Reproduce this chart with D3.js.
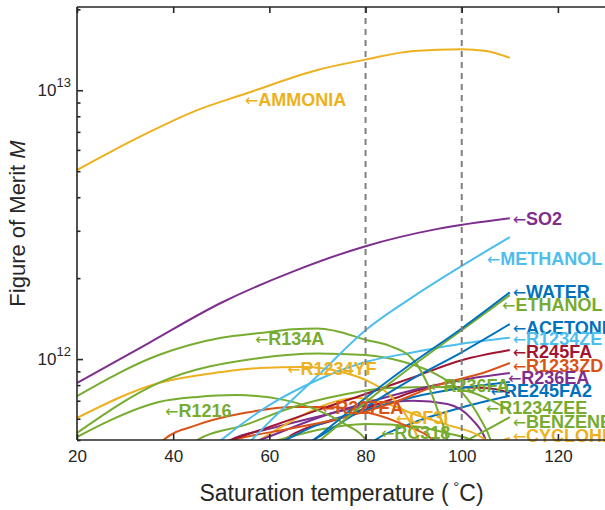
<!DOCTYPE html>
<html><head><meta charset="utf-8">
<script src="https://cdn.jsdelivr.net/npm/d3@7"></script>
<style>
body{margin:0;background:#fff}
svg{display:block}
text{font-family:"Liberation Sans",Arial,Helvetica,sans-serif}
</style>
</head><body>
<svg id="c" width="605" height="510"></svg>
<script>
// ---------- data (T in °C, M figure of merit) ----------
const xTicks = [20, 40, 60, 80, 100, 120];
const yMajorTicks = [1e12, 1e13];
const yMajorLabels = [["10","12"], ["10","13"]];
const refTemps = [80, 100];

const AMMONIA   = [[20,5.05e12],[27,5.9e12],[35,6.98e12],[45,8.43e12],[55,9.7e12],[70,1.19e13],[80,1.30e13],[90,1.40e13],[100,1.42e13],[105,1.40e13],[110,1.32e13]];
const SO2       = [[20,8.15e11],[35,1.15e12],[50,1.62e12],[65,2.12e12],[80,2.63e12],[95,3.05e12],[110,3.34e12]];
const METHANOL  = [[50,3.8e11],[60,5.84e11],[70,8.65e11],[80,1.28e12],[90,1.71e12],[100,2.22e12],[110,2.84e12]];
const WATER     = [[62,4.0e11],[70,5.13e11],[80,7.16e11],[90,9.75e11],[100,1.30e12],[110,1.77e12]];
const ETHANOL   = [[62,3.8e11],[70,4.9e11],[80,6.9e11],[90,9.5e11],[100,1.28e12],[110,1.73e12]];
const ACETONE   = [[55,3.3e11],[60,4.0e11],[70,5.1e11],[80,6.63e11],[90,8.5e11],[100,1.06e12],[110,1.35e12]];
const R1234ZE   = [[47,4.5e11],[50,5.0e11],[60,6.74e11],[70,8.36e11],[80,9.75e11],[90,1.06e12],[100,1.14e12],[110,1.20e12]];
const R245FA    = [[45,4.5e11],[52,5.0e11],[60,5.59e11],[70,6.46e11],[80,7.41e11],[90,8.57e11],[100,9.9e11],[110,1.08e12]];
const R1233ZD   = [[48,4.8e11],[55,5.13e11],[65,5.54e11],[75,6.04e11],[85,6.8e11],[95,8.0e11],[105,8.95e11],[110,9.67e11]];
const R236EA    = [[52,4.6e11],[58,5.0e11],[70,6.04e11],[80,6.86e11],[90,7.67e11],[100,8.36e11],[110,8.87e11]];
const RE245FA2  = [[58,4.5e11],[62,4.87e11],[70,5.69e11],[80,6.46e11],[90,7.23e11],[100,7.8e11],[110,8.21e11]];
const R1234ZEE  = [[20,5.31e11],[37,8.15e11],[58,1.01e12],[70,1.05e12],[80,1.035e12],[88,9.75e11],[95,8.72e11],[100,7.53e11],[104,5.93e11],[106,5.0e11],[107,4.3e11]];
const BENZENE   = [[95,4.4e11],[100,4.87e11],[104,5.31e11],[110,6.08e11]];
const CYCLOHEX  = [[100,4.3e11],[106,4.8e11],[110,5.09e11]];
const R134A     = [[20,7.28e11],[37,1.035e12],[50,1.2e12],[58,1.25e12],[65,1.29e12],[70,1.30e12],[74,1.27e12],[80,1.18e12],[85,1.12e12],[90,9.9e11],[93,8.0e11],[95,6.46e11],[97,5.0e11],[98,4.0e11]];
const R1234YF   = [[20,6.04e11],[37,8.15e11],[50,8.95e11],[58,9.26e11],[67,9.34e11],[75,8.95e11],[80,8.36e11],[85,7.35e11],[89,5.93e11],[91,5.0e11],[92,4.3e11]];
const R1216     = [[20,5.13e11],[27,5.93e11],[37,6.92e11],[45,7.23e11],[53,7.35e11],[63,7.05e11],[70,6.46e11],[76,5.69e11],[80,5.0e11],[82,4.2e11]];
const R227EA    = [[36,4.6e11],[38,5.0e11],[45,5.69e11],[55,6.31e11],[65,6.63e11],[72,6.63e11],[80,6.36e11],[88,5.69e11],[95,4.8e11],[98,4.0e11]];
const CF3I      = [[55,4.6e11],[58,5.0e11],[65,5.93e11],[72,6.8e11],[78,7.16e11],[84,6.86e11],[90,6.25e11],[97,5.69e11],[104,5.13e11],[106,4.8e11],[107,4.3e11]];
const RC318     = [[55,4.6e11],[62,5.0e11],[70,5.45e11],[80,5.74e11],[90,5.63e11],[97,5.3e11],[103,4.9e11],[106,4.4e11]];
const R236FA    = [[43,4.6e11],[45,5.0e11],[55,5.69e11],[65,6.63e11],[75,7.35e11],[85,7.8e11],[95,7.87e11],[102,7.53e11],[106,7.04e11],[110,6.46e11]];
const FLUID_A   = [[60,4.5e11],[63,5.0e11],[75,6.04e11],[85,7.04e11],[95,7.87e11],[105,7.8e11],[110,7.5e11]];
const FLUID_B   = [[49,4.6e11],[52,5.0e11],[60,5.5e11],[70,6.1e11],[80,6.7e11],[90,7.0e11],[97,6.8e11],[102,6.0e11],[105,5.0e11],[106,4.4e11]];
const FLUID_C   = [[80,4.7e11],[82,5.0e11],[90,5.8e11],[100,6.6e11],[110,7.3e11]];

// ---------- colours ----------
const C = {blue:"#0072BD", red:"#D95319", yellow:"#EDB120", purple:"#7E2F8E", green:"#77AC30", cyan:"#4DBEEE", wine:"#A2142F"};

const series = [
  {data:FLUID_C, color:C.blue},
  {data:FLUID_B, color:C.purple},
  {data:FLUID_A, color:C.wine},
  {data:CYCLOHEX, color:C.yellow},
  {data:BENZENE, color:C.green},
  {data:RC318, color:C.green},
  {data:CF3I, color:C.yellow},
  {data:R227EA, color:C.red},
  {data:R236FA, color:C.green},
  {data:RE245FA2, color:C.blue},
  {data:R236EA, color:C.purple},
  {data:R1233ZD, color:C.red},
  {data:R245FA, color:C.wine},
  {data:R1216, color:C.green},
  {data:R1234YF, color:C.yellow},
  {data:R1234ZEE, color:C.green},
  {data:R1234ZE, color:C.cyan},
  {data:ACETONE, color:C.blue},
  {data:R134A, color:C.green},
  {data:ETHANOL, color:C.green},
  {data:WATER, color:C.blue},
  {data:METHANOL, color:C.cyan},
  {data:SO2, color:C.purple},
  {data:AMMONIA, color:C.yellow}
];

// label anchors (arrow tip) in data coordinates
const labels = [
  {text:"AMMONIA", color:C.yellow, T:54.9, M:9.27e12},
  {text:"SO2", color:C.purple, T:110.6, M:3.34e12},
  {text:"METHANOL", color:C.cyan, T:105.2, M:2.37e12},
  {text:"WATER", color:C.blue, T:110.6, M:1.79e12},
  {text:"ETHANOL", color:C.green, T:108.4, M:1.59e12},
  {text:"ACETONE", color:C.blue, T:110.6, M:1.315e12},
  {text:"R1234ZE", color:C.cyan, T:110.6, M:1.19e12},
  {text:"R245FA", color:C.wine, T:110.6, M:1.07e12},
  {text:"R1233ZD", color:C.red, T:110.6, M:9.5e11},
  {text:"R236EA", color:C.purple, T:109.6, M:8.57e11},
  {text:"RE245FA2", color:C.blue, T:106.0, M:7.67e11},
  {text:"R1234ZEE", color:C.green, T:105.0, M:6.63e11},
  {text:"BENZENE", color:C.green, T:110.6, M:5.84e11},
  {text:"CYCLOHEXANE", color:C.yellow, T:110.6, M:5.18e11},
  {text:"R134A", color:C.green, T:57.0, M:1.19e12},
  {text:"R1234YF", color:C.yellow, T:63.7, M:9.26e11},
  {text:"R1216", color:C.green, T:38.3, M:6.46e11},
  {text:"R227EA", color:C.red, T:70.9, M:6.58e11},
  {text:"CF3I", color:C.yellow, T:86.3, M:6.04e11},
  {text:"RC318", color:C.green, T:83.2, M:5.31e11},
  {text:"R236FA", color:C.green, T:93.4, M:7.94e11}
];

// ---------- layout ----------
const L = 77, R = 606, T0 = 7, B = 440;
const svg = d3.select("#c");
const x = d3.scaleLinear().domain([20, 130]).range([L, R]);
const y = d3.scaleLog().domain([5e11, 2.04e13]).range([B, T0]);
const axisCol = "#262626";

svg.append("defs").append("clipPath").attr("id","clip")
  .append("rect").attr("x",L).attr("y",T0).attr("width",R-L).attr("height",B-T0);

const line = d3.line().x(d=>x(d[0])).y(d=>y(d[1])).curve(d3.curveMonotoneX);

const gLines = svg.append("g").attr("clip-path","url(#clip)");
gLines.selectAll("path.s").data(series).join("path")
  .attr("class","s")
  .attr("d", d=>line(d.data))
  .attr("fill","none")
  .attr("stroke", d=>d.color)
  .attr("stroke-width",2)
  .attr("stroke-linejoin","round");

// reference dashed lines
gLines.selectAll("line.ref").data(refTemps).join("line")
  .attr("class","ref")
  .attr("x1",d=>x(d)).attr("x2",d=>x(d))
  .attr("y1",T0).attr("y2",B)
  .attr("stroke","#808080").attr("stroke-width",2)
  .attr("stroke-dasharray","6,5");

// labels
const gLab = svg.append("g");
labels.forEach(l=>{
  const t = gLab.append("text")
    .attr("x", x(l.T)).attr("y", y(l.M)).attr("dy","0.36em")
    .attr("fill", l.color).attr("font-size",18);
  t.append("tspan").attr("font-family","DejaVu Sans").attr("font-size",16).text("\u2190");
  t.append("tspan").attr("font-weight","bold").text(l.text);
});

// axes frame
const gAx = svg.append("g");
gAx.append("line").attr("x1",L).attr("x2",L).attr("y1",T0).attr("y2",B).attr("stroke",axisCol).attr("stroke-width",1.6);
gAx.append("line").attr("x1",L).attr("x2",R).attr("y1",B).attr("y2",B).attr("stroke",axisCol).attr("stroke-width",1.6);
gAx.append("line").attr("x1",L).attr("x2",R).attr("y1",T0).attr("y2",T0).attr("stroke",axisCol).attr("stroke-width",1.6);

// x axis (ticks inward)
const xAxisB = d3.axisBottom(x).tickValues(xTicks).tickSize(-6).tickPadding(10).tickFormat(d3.format("d"));
const gx = svg.append("g").attr("transform",`translate(0,${B})`).call(xAxisB);
gx.select(".domain").remove();
gx.selectAll(".tick line").attr("stroke",axisCol).attr("stroke-width",1.6);
gx.selectAll(".tick text").attr("fill",axisCol).attr("font-size",17).attr("font-family","Liberation Sans, Arial, sans-serif").attr("dy","0.71em");

const xAxisT = d3.axisTop(x).tickValues(xTicks).tickSize(-6).tickFormat("");
const gxt = svg.append("g").attr("transform",`translate(0,${T0})`).call(xAxisT);
gxt.select(".domain").remove();
gxt.selectAll(".tick line").attr("stroke",axisCol).attr("stroke-width",1.6);

// y axis ticks (log minor + major)
const minor = [];
for (let e = 11; e <= 13; e++) for (let m = 1; m <= 9; m++) {
  const v = m * Math.pow(10, e);
  if (v >= 5e11 && v <= 2.04e13) minor.push(v);
}
const yAxis = d3.axisLeft(y).tickValues(minor).tickSize(0).tickFormat("");
const gy = svg.append("g").attr("transform",`translate(${L},0)`).call(yAxis);
gy.select(".domain").remove();
gy.selectAll(".tick").each(function(v){
  const major = yMajorTicks.some(mv=>Math.abs(mv-v)/mv < 1e-6);
  d3.select(this).select("line").attr("x2", major ? 6 : 3.5).attr("stroke",axisCol).attr("stroke-width",1.6);
});
yMajorTicks.forEach((v,i)=>{
  const t = svg.append("text").attr("x",71).attr("y",y(v)+6).attr("text-anchor","end")
    .attr("fill",axisCol).attr("font-size",17);
  t.append("tspan").text(yMajorLabels[i][0]);
  t.append("tspan").attr("font-size",13).attr("dy",-9).text(yMajorLabels[i][1]);
});

// axis titles
const xt = svg.append("text").attr("x",(L+R)/2).attr("y",501).attr("text-anchor","middle")
  .attr("fill",axisCol).attr("font-size",23);
xt.append("tspan").text("Saturation temperature (\u2009");
xt.append("tspan").attr("font-size",15).attr("dy",-9).text("\u00B0");
xt.append("tspan").attr("dy",9).text("C)");
const yt = svg.append("text").attr("transform",`translate(25,${(T0+B)/2}) rotate(-90)`)
  .attr("text-anchor","middle").attr("fill",axisCol).attr("font-size",22);
yt.append("tspan").text("Figure of Merit ");
yt.append("tspan").attr("font-style","italic").text("M");
</script>
</body></html>
